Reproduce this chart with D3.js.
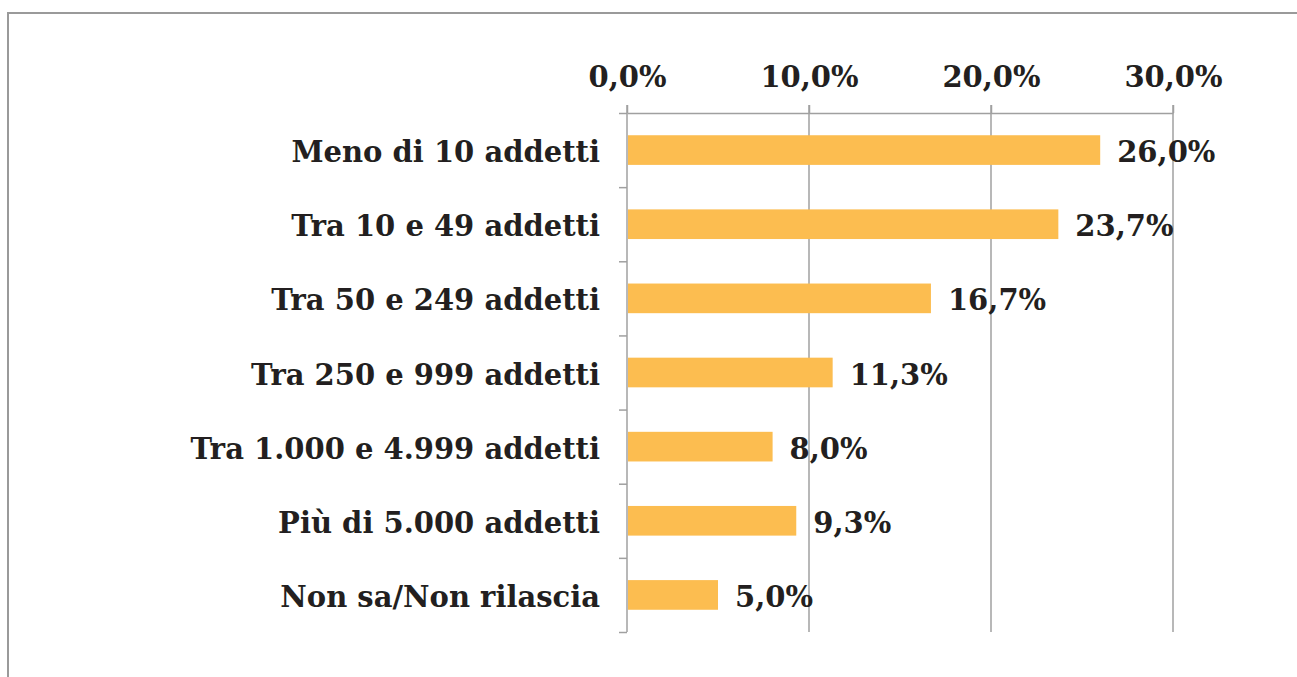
<!DOCTYPE html>
<html>
<head>
<meta charset="utf-8">
<script src="https://cdn.jsdelivr.net/npm/d3@7"></script>
<style>
  body { margin: 0; background: #fff; }
  svg text { font-family: "DejaVu Serif", Georgia, serif; font-weight: bold; fill: #231f20; }
</style>
</head>
<body>
<div id="chart"></div>
<script>
// categories and values (percent)
var categories = ['Meno di 10 addetti', 'Tra 10 e 49 addetti', 'Tra 50 e 249 addetti',
    'Tra 250 e 999 addetti', 'Tra 1.000 e 4.999 addetti', 'Più di 5.000 addetti', 'Non sa/Non rilascia'];
var values = [26.0, 23.7, 16.7, 11.3, 8.0, 9.3, 5.0];
var xTicks = [0, 10, 20, 30];

var W = 1297, H = 677;
var m = {t: 113, l: 627, r: 124, b: 45};
var w = W - m.l - m.r, h = H - m.t - m.b;
var fs = 29;

var fmt = function(v) { return d3.format('.1f')(v).replace('.', ',') + '%'; };

var svg = d3.select('#chart').append('svg')
    .attr('width', W).attr('height', H);

// outer frame (runs off the right and bottom edge)
svg.append('rect')
    .attr('x', 8).attr('y', 13)
    .attr('width', W + 20).attr('height', H + 20)
    .attr('fill', 'none').attr('stroke', '#9a9a9a').attr('stroke-width', 2);

var g = svg.append('g').attr('transform', 'translate(' + m.l + ',' + m.t + ')');

var x = d3.scaleLinear().domain([0, 30]).range([0, w]);
var y = d3.scaleBand().domain(categories).range([0, h]).paddingInner(0.6).paddingOuter(0.3);
var yEdge = d3.scaleLinear().domain([0, categories.length]).range([0, h]);

// gridlines
g.selectAll('.grid').data(xTicks.slice(1)).enter()
    .append('line').attr('class', 'grid')
    .attr('x1', function(d) { return x(d); }).attr('x2', function(d) { return x(d); })
    .attr('y1', -8).attr('y2', h)
    .attr('stroke', '#a0a0a0').attr('stroke-width', 1.5);

// top axis
var xAxis = g.append('g')
    .call(d3.axisTop(x).tickValues(xTicks).tickSize(8).tickSizeOuter(0).tickFormat(fmt));
xAxis.select('.domain').attr('stroke', '#a0a0a0').attr('stroke-width', 1.5);
xAxis.selectAll('.tick line').attr('stroke', '#a0a0a0').attr('stroke-width', 1.5);
xAxis.selectAll('.tick text').attr('font-size', fs).attr('dy', null).attr('y', -26);

// left axis with ticks at band edges
var yAxis = g.append('g')
    .call(d3.axisLeft(yEdge).tickValues(d3.range(categories.length + 1)).tickSize(8).tickSizeOuter(0).tickFormat(''));
yAxis.select('.domain').attr('stroke', '#a0a0a0').attr('stroke-width', 1.5)
    .attr('d', 'M0,-8V' + h);
yAxis.selectAll('.tick line').attr('stroke', '#a0a0a0').attr('stroke-width', 1.5);

// bars
var bars = g.selectAll('.bar').data(values).enter()
    .append('g').attr('class', 'bar');

bars.append('rect')
    .attr('x', x(0) + 1)
    .attr('y', function(d, i) { return y(categories[i]); })
    .attr('width', function(d) { return x(d) - x(0) - 1; })
    .attr('height', y.bandwidth())
    .attr('fill', '#fcbd50');

// value labels
bars.append('text').text(function(d) { return fmt(d); })
    .attr('x', function(d) { return x(d) + 17; })
    .attr('y', function(d, i) { return y(categories[i]) + y.bandwidth() / 2 + 12; })
    .attr('font-size', fs);

// category labels
g.selectAll('.cat').data(categories).enter()
    .append('text').attr('class', 'cat')
    .text(function(d) { return d; })
    .attr('x', -27)
    .attr('y', function(d) { return y(d) + y.bandwidth() / 2 + 12; })
    .attr('text-anchor', 'end')
    .attr('font-size', fs);
</script>
</body>
</html>
